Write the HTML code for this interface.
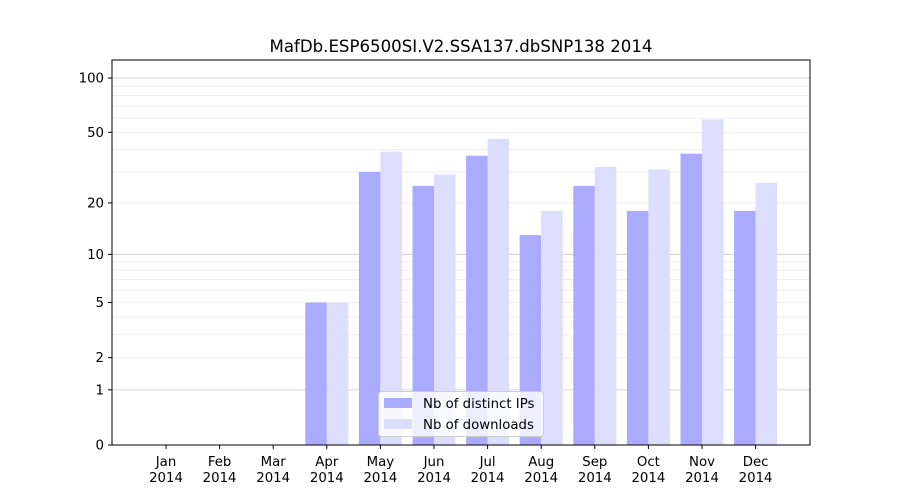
<!DOCTYPE html>
<html><head><meta charset="utf-8"><style>body{margin:0;background:#fff}svg{display:block;font-family:"DejaVu Sans","Liberation Sans",sans-serif}</style></head>
<body>
<svg id="s" width="900" height="500" xmlns="http://www.w3.org/2000/svg">
<rect width="900" height="500" fill="#fff"/>
<g id="grid"></g>
<g id="bars"></g>
<rect x="112" y="60" width="698" height="385" fill="none" stroke="#000" stroke-width="1"/>
<g id="ticks" font-size="13.3" fill="#000"></g>
<text x="461" y="52" text-anchor="middle" font-size="16.6">MafDb.ESP6500SI.V2.SSA137.dbSNP138 2014</text>
<g>
<rect x="378.5" y="391.5" width="165" height="45" rx="3" fill="#fff" fill-opacity="0.8" stroke="#ccc"/>
<rect x="384" y="398" width="28" height="10" fill="#aaaaff"/>
<text x="423" y="408" font-size="13.3">Nb of distinct IPs</text>
<rect x="384" y="419" width="28" height="10" fill="#ddddff"/>
<text x="423" y="429" font-size="13.3">Nb of downloads</text>
</g>
</svg>
<script>
const Y=v=>445-183.1*Math.log10(1+v);
const ns="http://www.w3.org/2000/svg";
function el(p,t,a,txt){const e=document.createElementNS(ns,t);for(const k in a)e.setAttribute(k,a[k]);if(txt!==undefined)e.textContent=txt;document.getElementById(p).appendChild(e);return e;}
const minor=[2,3,4,5,6,7,8,9,20,30,40,50,60,70,80,90];
minor.forEach(v=>el("grid","line",{x1:112,x2:810,y1:Y(v),y2:Y(v),stroke:"#ebebeb","stroke-width":0.8}));
[1,10,100].forEach(v=>el("grid","line",{x1:112,x2:810,y1:Y(v),y2:Y(v),stroke:"#c8c8c8","stroke-width":0.8}));
[0,1,2,5,10,20,50,100].forEach(v=>{const y=Y(v);el("ticks","line",{x1:108,x2:112,y1:y,y2:y,stroke:"#000"});el("ticks","text",{x:104,y:y+4.5,"text-anchor":"end"},String(v));});
const m=["Jan","Feb","Mar","Apr","May","Jun","Jul","Aug","Sep","Oct","Nov","Dec"];
const a=[0,0,0,5,30,25,37,13,25,18,38,18],b=[0,0,0,5,39,29,46,18,32,31,59,26];
m.forEach((n,i)=>{const c=166+i*53.6;
 if(a[i]>0)el("bars","rect",{x:c-21.5,y:Y(a[i]),width:21.5,height:445-Y(a[i]),fill:"#aaaaff"});
 if(b[i]>0)el("bars","rect",{x:c,y:Y(b[i]),width:21.5,height:445-Y(b[i]),fill:"#ddddff"});
 el("ticks","line",{x1:c,x2:c,y1:445,y2:449,stroke:"#000"});
 el("ticks","text",{x:c,y:466,"text-anchor":"middle"},n);
 el("ticks","text",{x:c,y:482,"text-anchor":"middle"},"2014");
});
</script>
</body></html>
